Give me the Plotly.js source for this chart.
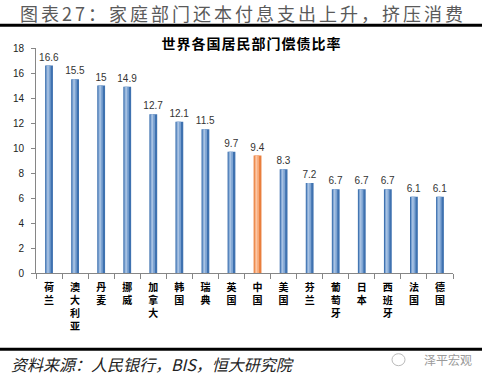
<!DOCTYPE html>
<html>
<head>
<meta charset="utf-8">
<script src="https://cdn.plot.ly/plotly-3.0.1.min.js"></script>
<style>
html,body{margin:0;padding:0;background:#fff;}
#chart{width:487px;height:383px;}
</style>
</head>
<body>
<div id="chart"></div>
<script>
const categories = ['荷兰','澳大利亚','丹麦','挪威','加拿大','韩国','瑞典','英国','中国','美国','芬兰','葡萄牙','日本','西班牙','法国','德国'];
const values = [16.6,15.5,15,14.9,12.7,12.1,11.5,9.7,9.4,8.3,7.2,6.7,6.7,6.7,6.1,6.1];
const valueLabels = ['16.6','15.5','15','14.9','12.7','12.1','11.5','9.7','9.4','8.3','7.2','6.7','6.7','6.7','6.1','6.1'];
const highlight = '中国';

const tickLabels = categories.map(c => c.split('').join('<br>'));
const edgeColors = categories.map(c => c === highlight ? '#E97E3C' : '#3F72B0');
const midColors = categories.map(c => c === highlight ? '#F7A878' : '#7FA5D3');
const lightColors = categories.map(c => c === highlight ? '#FBC7A6' : '#A9C3E3');

const L = 36, R = 453, T = 48.3, B = 273.3;
const W = 487, H = 383;
const px = x => (x - L) / (R - L);
const py = y => (B - y) / (B - T);

const traces = [
  {type:'bar', x:categories, y:values, width:0.3, marker:{color:edgeColors, line:{width:0}},
   text:valueLabels, textposition:'outside', cliponaxis:false, constraintext:'none',
   textfont:{family:'Liberation Sans, Arial, sans-serif', size:10, color:'#333'}, hoverinfo:'skip'},
  {type:'bar', x:categories, y:values, width:0.17, offset:-0.11, marker:{color:midColors, line:{width:0}}, hoverinfo:'skip'},
  {type:'bar', x:categories, y:values, width:0.06, offset:-0.07, marker:{color:lightColors, line:{width:0}}, hoverinfo:'skip'}
];

const layout = {
  width:W, height:H,
  margin:{l:L, r:W-R, t:T, b:H-B, pad:0},
  paper_bgcolor:'#fff', plot_bgcolor:'#fff',
  showlegend:false,
  barmode:'overlay',
  font:{family:'Noto Sans CJK SC, sans-serif', color:'#000'},
  xaxis:{type:'category', range:[-0.5,15.5], tickvals:categories, ticktext:tickLabels,
    ticks:'outside', tickson:'boundaries', ticklen:5, tickcolor:'#868686', tickwidth:1,
    showline:true, linecolor:'#868686', linewidth:1, showgrid:false, zeroline:false,
    ticklabelstandoff:5,
    tickfont:{family:'Noto Sans CJK SC, sans-serif', size:10, color:'#000', weight:'bold'}, tickangle:0, fixedrange:true},
  yaxis:{range:[0,18], dtick:2, tick0:0, ticks:'outside', ticklen:4, tickcolor:'#868686',
    showline:true, linecolor:'#868686', linewidth:1, showgrid:false, zeroline:false,
    ticklabelstandoff:5,
    tickfont:{family:'Liberation Sans, Arial, sans-serif', size:10, color:'#222'}, fixedrange:true},
  shapes:[
    {type:'line', xref:'paper', yref:'paper', x0:px(0), x1:px(482), y0:py(25.5), y1:py(25.5), line:{color:'#000', width:3}},
    {type:'line', xref:'paper', yref:'paper', x0:px(0), x1:px(482), y0:py(349.5), y1:py(349.5), line:{color:'#000', width:3}},
    {type:'circle', xref:'paper', yref:'paper', x0:px(392), x1:px(405), y0:py(366), y1:py(354), line:{color:'#bbb', width:1}}
  ],
  annotations:[
    {text:'图表27：家庭部门还本付息支出上升，挤压消费', xref:'paper', yref:'paper', x:px(20), y:py(13), xanchor:'left', yanchor:'middle', showarrow:false,
     font:{family:'Noto Sans CJK SC, sans-serif', size:18, color:'#5a5a5a'}},
    {text:'世界各国居民部门偿债比率', xref:'paper', yref:'paper', x:px(251), y:py(43), xanchor:'center', yanchor:'middle', showarrow:false,
     font:{family:'Noto Sans CJK SC, sans-serif', size:14, color:'#000', weight:'bold'}},
    {text:'资料来源：人民银行，BIS，恒大研究院', xref:'paper', yref:'paper', x:px(11), y:py(364), xanchor:'left', yanchor:'middle', showarrow:false,
     font:{family:'Noto Sans CJK SC, sans-serif', size:16, color:'#222', style:'italic'}},
    {text:'泽平宏观', xref:'paper', yref:'paper', x:px(422), y:py(360), xanchor:'left', yanchor:'middle', showarrow:false,
     font:{family:'Noto Sans CJK SC, sans-serif', size:12, color:'#9a9a9a'}}
  ]
};

// letter spacing for title texts, then re-align to the intended pixel positions
const spacing = [
  {idx:0, ls:3, mode:'left', pos:20},
  {idx:1, ls:1, mode:'center', pos:251},
  {idx:2, ls:0, mode:'left', pos:11}
];

Plotly.newPlot('chart', traces, layout, {staticPlot:true}).then(gd => {
  const anns = gd.querySelectorAll('.annotation-text');
  const root = gd.getBoundingClientRect();
  spacing.forEach(s => {
    const t = anns[s.idx];
    if (!t) return;
    t.setAttribute('letter-spacing', s.ls);
    const r = t.getBoundingClientRect();
    let dx;
    if (s.mode === 'left') dx = s.pos - (r.left - root.left);
    else dx = s.pos - ((r.left + r.right) / 2 - s.ls / 2 - root.left);
    t.setAttribute('transform', 'translate(' + dx + ',0)');
  });
});
</script>
</body>
</html>
